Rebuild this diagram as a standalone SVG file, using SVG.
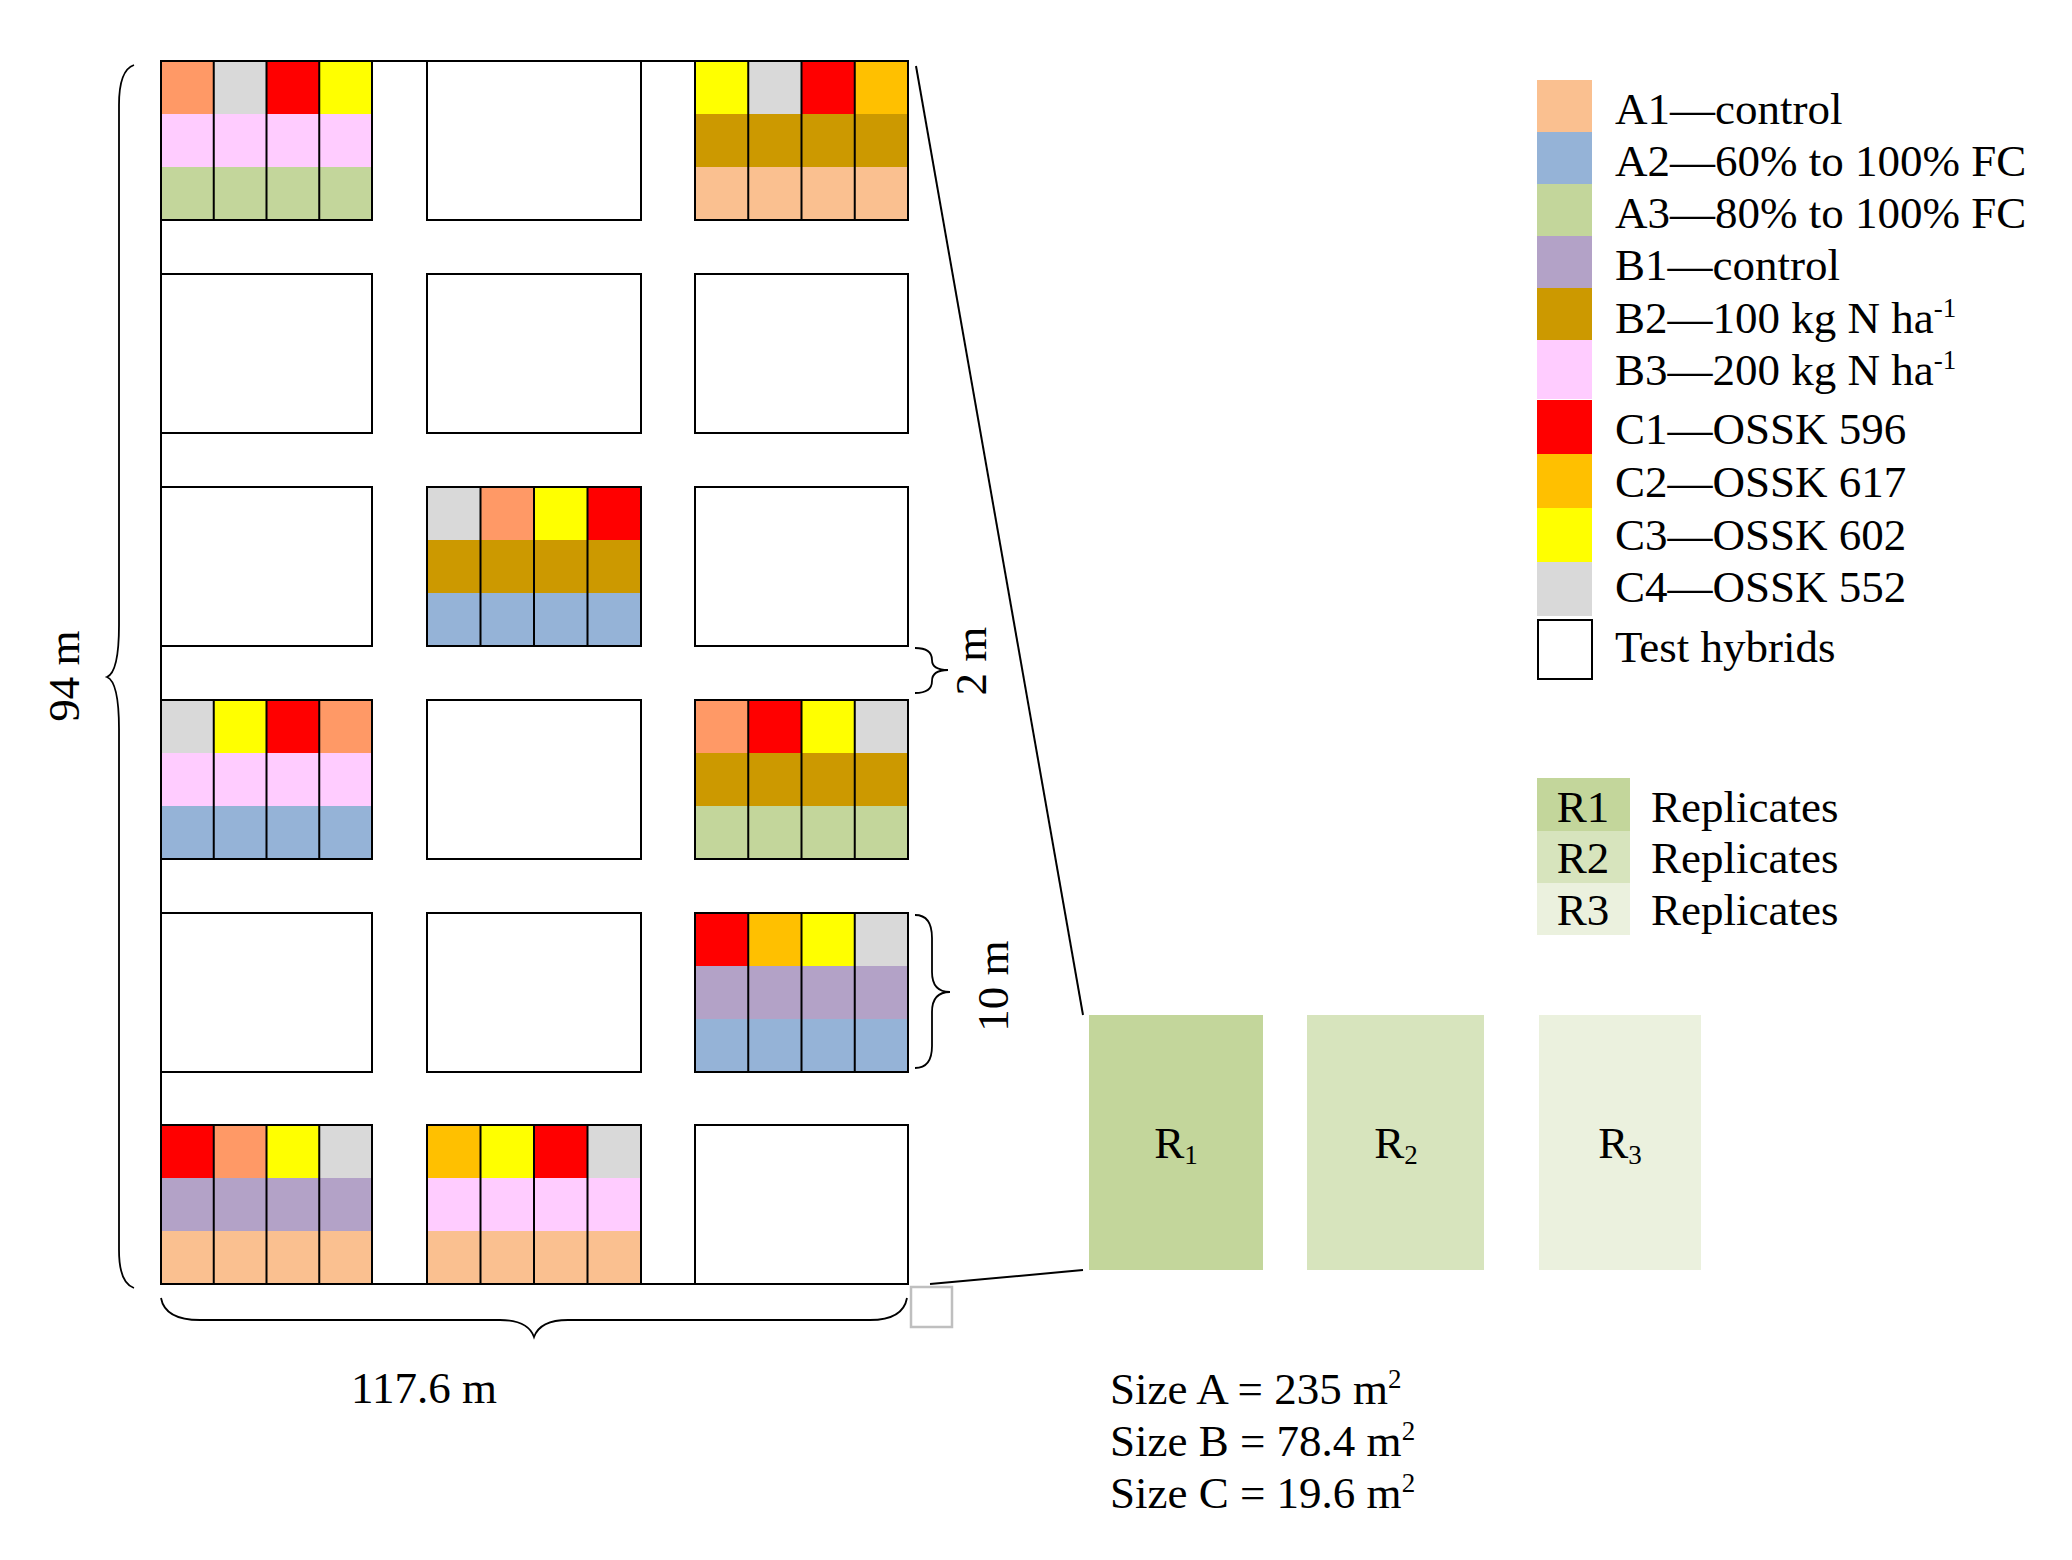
<svg xmlns="http://www.w3.org/2000/svg" width="2072" height="1560" viewBox="0 0 2072 1560">
<style>
text{font-family:"Liberation Serif","Times New Roman",serif;font-size:45px;fill:#000}
.blk{fill:none;stroke:#000;stroke-width:2}
.wb{fill:#fff;stroke:#000;stroke-width:2}
.dv{stroke:#000;stroke-width:2}
.br{fill:none;stroke:#000;stroke-width:1.8}
.ln{fill:none;stroke:#000;stroke-width:2}
.sup{font-size:27px}
</style>
<rect width="2072" height="1560" fill="#fff"/>

<!-- field outline -->
<g id="field-outline">
<path class="ln" d="M161,61 H908 M161,61 V1284 H908"/>
</g>

<!-- white test-hybrid plots -->
<g id="plots-white">
<rect class="wb" x="427" y="61" width="214" height="159"/>
<rect class="wb" x="161" y="274" width="211" height="159"/>
<rect class="wb" x="427" y="274" width="214" height="159"/>
<rect class="wb" x="695" y="274" width="213" height="159"/>
<rect class="wb" x="161" y="487" width="211" height="159"/>
<rect class="wb" x="695" y="487" width="213" height="159"/>
<rect class="wb" x="427" y="700" width="214" height="159"/>
<rect class="wb" x="161" y="913" width="211" height="159"/>
<rect class="wb" x="427" y="913" width="214" height="159"/>
<rect class="wb" x="695" y="1125" width="213" height="159"/>
</g>

<!-- row1 col1 -->
<g id="plot-r1c1">
<rect x="161" y="61" width="52.75" height="53" fill="#FF9966"/>
<rect x="213.75" y="61" width="52.75" height="53" fill="#D9D9D9"/>
<rect x="266.5" y="61" width="52.75" height="53" fill="#FF0000"/>
<rect x="319.25" y="61" width="52.75" height="53" fill="#FFFF00"/>
<rect x="161" y="114" width="211" height="53" fill="#FFCCFF"/>
<rect x="161" y="167" width="211" height="53" fill="#C3D69B"/>
<path class="dv" d="M213.75,61 V220 M266.5,61 V220 M319.25,61 V220"/>
<rect class="blk" x="161" y="61" width="211" height="159"/>
</g>

<!-- row1 col3 -->
<g id="plot-r1c3">
<rect x="695" y="61" width="53.25" height="53" fill="#FFFF00"/>
<rect x="748.25" y="61" width="53.25" height="53" fill="#D9D9D9"/>
<rect x="801.5" y="61" width="53.25" height="53" fill="#FF0000"/>
<rect x="854.75" y="61" width="53.25" height="53" fill="#FFC000"/>
<rect x="695" y="114" width="213" height="53" fill="#CC9900"/>
<rect x="695" y="167" width="213" height="53" fill="#FAC090"/>
<path class="dv" d="M748.25,61 V220 M801.5,61 V220 M854.75,61 V220"/>
<rect class="blk" x="695" y="61" width="213" height="159"/>
</g>

<!-- row3 col2 -->
<g id="plot-r3c2">
<rect x="427" y="487" width="53.5" height="53" fill="#D9D9D9"/>
<rect x="480.5" y="487" width="53.5" height="53" fill="#FF9966"/>
<rect x="534" y="487" width="53.5" height="53" fill="#FFFF00"/>
<rect x="587.5" y="487" width="53.5" height="53" fill="#FF0000"/>
<rect x="427" y="540" width="214" height="53" fill="#CC9900"/>
<rect x="427" y="593" width="214" height="53" fill="#95B3D7"/>
<path class="dv" d="M480.5,487 V646 M534,487 V646 M587.5,487 V646"/>
<rect class="blk" x="427" y="487" width="214" height="159"/>
</g>

<!-- row4 col1 -->
<g id="plot-r4c1">
<rect x="161" y="700" width="52.75" height="53" fill="#D9D9D9"/>
<rect x="213.75" y="700" width="52.75" height="53" fill="#FFFF00"/>
<rect x="266.5" y="700" width="52.75" height="53" fill="#FF0000"/>
<rect x="319.25" y="700" width="52.75" height="53" fill="#FF9966"/>
<rect x="161" y="753" width="211" height="53" fill="#FFCCFF"/>
<rect x="161" y="806" width="211" height="53" fill="#95B3D7"/>
<path class="dv" d="M213.75,700 V859 M266.5,700 V859 M319.25,700 V859"/>
<rect class="blk" x="161" y="700" width="211" height="159"/>
</g>

<!-- row4 col3 -->
<g id="plot-r4c3">
<rect x="695" y="700" width="53.25" height="53" fill="#FF9966"/>
<rect x="748.25" y="700" width="53.25" height="53" fill="#FF0000"/>
<rect x="801.5" y="700" width="53.25" height="53" fill="#FFFF00"/>
<rect x="854.75" y="700" width="53.25" height="53" fill="#D9D9D9"/>
<rect x="695" y="753" width="213" height="53" fill="#CC9900"/>
<rect x="695" y="806" width="213" height="53" fill="#C3D69B"/>
<path class="dv" d="M748.25,700 V859 M801.5,700 V859 M854.75,700 V859"/>
<rect class="blk" x="695" y="700" width="213" height="159"/>
</g>

<!-- row5 col3 -->
<g id="plot-r5c3">
<rect x="695" y="913" width="53.25" height="53" fill="#FF0000"/>
<rect x="748.25" y="913" width="53.25" height="53" fill="#FFC000"/>
<rect x="801.5" y="913" width="53.25" height="53" fill="#FFFF00"/>
<rect x="854.75" y="913" width="53.25" height="53" fill="#D9D9D9"/>
<rect x="695" y="966" width="213" height="53" fill="#B3A2C7"/>
<rect x="695" y="1019" width="213" height="53" fill="#95B3D7"/>
<path class="dv" d="M748.25,913 V1072 M801.5,913 V1072 M854.75,913 V1072"/>
<rect class="blk" x="695" y="913" width="213" height="159"/>
</g>

<!-- row6 col1 -->
<g id="plot-r6c1">
<rect x="161" y="1125" width="52.75" height="53" fill="#FF0000"/>
<rect x="213.75" y="1125" width="52.75" height="53" fill="#FF9966"/>
<rect x="266.5" y="1125" width="52.75" height="53" fill="#FFFF00"/>
<rect x="319.25" y="1125" width="52.75" height="53" fill="#D9D9D9"/>
<rect x="161" y="1178" width="211" height="53" fill="#B3A2C7"/>
<rect x="161" y="1231" width="211" height="53" fill="#FAC090"/>
<path class="dv" d="M213.75,1125 V1284 M266.5,1125 V1284 M319.25,1125 V1284"/>
<rect class="blk" x="161" y="1125" width="211" height="159"/>
</g>

<!-- row6 col2 -->
<g id="plot-r6c2">
<rect x="427" y="1125" width="53.5" height="53" fill="#FFC000"/>
<rect x="480.5" y="1125" width="53.5" height="53" fill="#FFFF00"/>
<rect x="534" y="1125" width="53.5" height="53" fill="#FF0000"/>
<rect x="587.5" y="1125" width="53.5" height="53" fill="#D9D9D9"/>
<rect x="427" y="1178" width="214" height="53" fill="#FFCCFF"/>
<rect x="427" y="1231" width="214" height="53" fill="#FAC090"/>
<path class="dv" d="M480.5,1125 V1284 M534,1125 V1284 M587.5,1125 V1284"/>
<rect class="blk" x="427" y="1125" width="214" height="159"/>
</g>

<!-- dimension braces and labels -->
<g id="dim-94m">
<path class="br" d="M134,65 Q119,70 119,105 L119,625 Q119,672 107,677 Q119,682 119,729 L119,1250 Q119,1283 134,1288"/>
<text transform="translate(79,676) rotate(-90)" text-anchor="middle">94 m</text>
</g>
<g id="dim-117m">
<path class="br" d="M161,1298 Q165,1320 200,1320 L500,1320 Q528,1320 534,1337 Q540,1320 568,1320 L870,1320 Q903,1320 907,1298"/>
<text x="424" y="1403" text-anchor="middle">117.6 m</text>
</g>
<g id="dim-2m">
<path class="br" d="M915,648 Q932,648 932,660 Q932,670 948,670 Q932,670 932,681 Q932,693 915,693"/>
<text transform="translate(986,661) rotate(-90)" text-anchor="middle">2 m</text>
</g>
<g id="dim-10m">
<path class="br" d="M915,915 Q932,915 932,938 L932,972 Q932,992 950,992 Q932,992 932,1012 L932,1046 Q932,1068 915,1068"/>
<text transform="translate(1008,986) rotate(-90)" text-anchor="middle">10 m</text>
</g>

<!-- small plot marker -->
<g id="unit-plot">
<rect x="911" y="1287" width="41" height="40" fill="#fff" stroke="#BFBFBF" stroke-width="2.5"/>
</g>

<!-- zoom connectors -->
<g id="connectors">
<line class="ln" x1="916" y1="66" x2="1083" y2="1015" stroke-width="1.8"/>
<line class="ln" x1="930" y1="1284" x2="1083" y2="1270" stroke-width="1.8"/>
</g>

<!-- replicate blocks -->
<g id="rep-R1">
<rect x="1089" y="1015" width="174" height="255" fill="#C3D69B"/>
<text x="1176" y="1158" text-anchor="middle">R<tspan class="sup" dy="6">1</tspan></text>
</g>
<g id="rep-R2">
<rect x="1307" y="1015" width="177" height="255" fill="#D7E4BD"/>
<text x="1396" y="1158" text-anchor="middle">R<tspan class="sup" dy="6">2</tspan></text>
</g>
<g id="rep-R3">
<rect x="1539" y="1015" width="162" height="255" fill="#EBF1DE"/>
<text x="1620" y="1158" text-anchor="middle">R<tspan class="sup" dy="6">3</tspan></text>
</g>

<!-- sizes -->
<g id="sizes">
<text x="1110" y="1404">Size A = 235 m<tspan class="sup" dy="-16">2</tspan></text>
<text x="1110" y="1456">Size B = 78.4 m<tspan class="sup" dy="-16">2</tspan></text>
<text x="1110" y="1508">Size C = 19.6 m<tspan class="sup" dy="-16">2</tspan></text>
</g>

<!-- legend -->
<g id="legend-A1"><rect x="1537" y="80" width="55" height="52" fill="#FAC090"/><text x="1615" y="124">A1—control</text></g>
<g id="legend-A2"><rect x="1537" y="132" width="55" height="52" fill="#95B3D7"/><text x="1615" y="176">A2—60% to 100% FC</text></g>
<g id="legend-A3"><rect x="1537" y="184" width="55" height="52" fill="#C3D69B"/><text x="1615" y="228">A3—80% to 100% FC</text></g>
<g id="legend-B1"><rect x="1537" y="236" width="55" height="52" fill="#B3A2C7"/><text x="1615" y="280">B1—control</text></g>
<g id="legend-B2"><rect x="1537" y="288" width="55" height="52" fill="#CC9900"/><text x="1615" y="333">B2—100 kg N ha<tspan class="sup" dy="-16">-1</tspan></text></g>
<g id="legend-B3"><rect x="1537" y="340" width="55" height="59" fill="#FFCCFF"/><text x="1615" y="385">B3—200 kg N ha<tspan class="sup" dy="-16">-1</tspan></text></g>
<g id="legend-C1"><rect x="1537" y="400" width="55" height="54" fill="#FF0000"/><text x="1615" y="444">C1—OSSK 596</text></g>
<g id="legend-C2"><rect x="1537" y="454" width="55" height="54" fill="#FFC000"/><text x="1615" y="497">C2—OSSK 617</text></g>
<g id="legend-C3"><rect x="1537" y="508" width="55" height="54" fill="#FFFF00"/><text x="1615" y="550">C3—OSSK 602</text></g>
<g id="legend-C4"><rect x="1537" y="562" width="55" height="54" fill="#D9D9D9"/><text x="1615" y="602">C4—OSSK 552</text></g>
<g id="legend-test"><rect x="1538" y="620" width="54" height="59" fill="#fff" stroke="#000" stroke-width="2"/><text x="1615" y="662">Test hybrids</text></g>

<g id="legend-R1"><rect x="1537" y="778" width="93" height="53" fill="#C3D69B"/><text x="1583" y="822" text-anchor="middle">R1</text><text x="1651" y="822">Replicates</text></g>
<g id="legend-R2"><rect x="1537" y="831" width="93" height="52" fill="#D7E4BD"/><text x="1583" y="873" text-anchor="middle">R2</text><text x="1651" y="873">Replicates</text></g>
<g id="legend-R3"><rect x="1537" y="883" width="93" height="52" fill="#EBF1DE"/><text x="1583" y="925" text-anchor="middle">R3</text><text x="1651" y="925">Replicates</text></g>
</svg>
